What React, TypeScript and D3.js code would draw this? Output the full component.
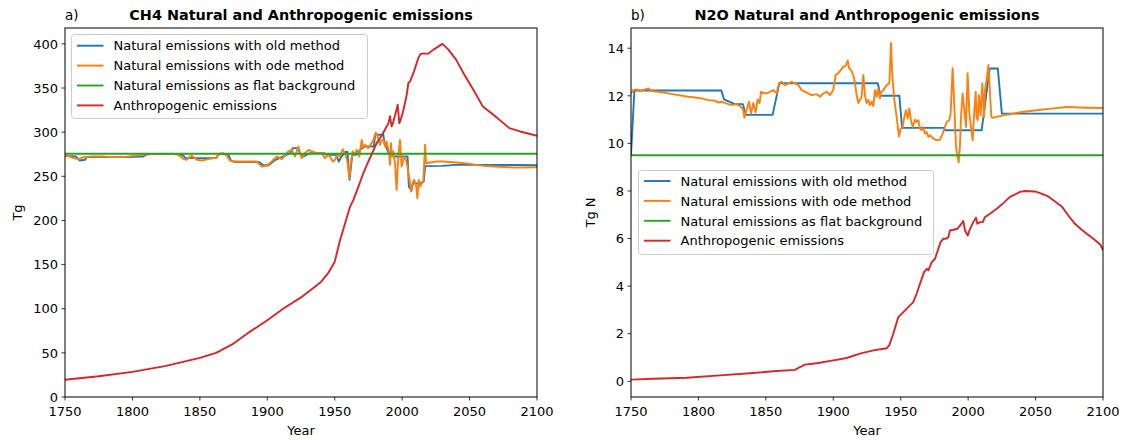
import React from "react";
import * as d3 from "d3";

// ---------- DATA ----------
const xTicks = [1750, 1800, 1850, 1900, 1950, 2000, 2050, 2100];
const ch4YTicks = [0, 50, 100, 150, 200, 250, 300, 350, 400];
const n2oYTicks = [0, 2, 4, 6, 8, 10, 12, 14];
const seriesNames = [
  "Natural emissions with old method",
  "Natural emissions with ode method",
  "Natural emissions as flat background",
  "Anthropogenic emissions",
];
const seriesColors = ["#1f77b4", "#ff7f0e", "#2ca02c", "#d62728"];

// CH4 (Tg)
const ch4OldYears = [1750, 1758, 1761, 1765, 1766, 1796, 1808, 1811, 1835, 1838, 1839, 1862, 1864, 1871, 1873, 1876, 1894, 1897, 1901, 1906, 1912, 1917, 1919, 1923, 1924, 1927, 1929, 1932, 1942, 1944, 1951, 1953, 1955, 1958, 1959.5, 1961, 1963, 1966, 1970, 1973, 1979, 1980, 1986, 1987, 1990, 1994, 2004, 2005, 2007, 2008, 2013, 2016, 2017, 2030, 2040, 2060, 2100];
const ch4OldValues = [273.2, 272.4, 267.9, 268.7, 271.7, 271.7, 272.4, 275.1, 275.1, 273.2, 270.6, 270.6, 275.1, 275.1, 267.9, 266.1, 266.1, 262.5, 262.5, 268.7, 272.5, 276.3, 281.9, 281.9, 276.3, 272.5, 274.4, 276.3, 276.3, 274.4, 274.4, 266.7, 272.4, 277.5, 277.5, 246, 274.3, 274.3, 281.9, 283.8, 283.8, 297, 297, 287.6, 276.2, 272.4, 272.4, 238, 234, 242, 242, 244, 261.5, 261.8, 263, 263, 262.5];

const ch4OdeYears = [1750, 1752.5, 1756.2, 1759.9, 1763.6, 1771, 1778.4, 1785.8, 1793.2, 1800.7, 1808.1, 1815.5, 1830.3, 1834, 1837.7, 1840.2, 1843.9, 1847.7, 1851.4, 1856.3, 1862.5, 1864.4, 1867.4, 1869.9, 1872.3, 1876.1, 1887.2, 1892.1, 1895.9, 1899.6, 1903.3, 1907, 1910.7, 1913.2, 1915.6, 1918.1, 1920.6, 1923, 1925.5, 1928, 1930.5, 1932.9, 1935.4, 1937.9, 1940.3, 1942.8, 1945.3, 1946.5, 1948.5, 1950.2, 1951.9, 1953.9, 1955.9, 1957.6, 1959.4, 1960.8, 1962.1, 1963.3, 1965, 1966.3, 1968.3, 1970, 1971.2, 1972.5, 1974.9, 1977.4, 1978.6, 1980.4, 1981.8, 1983.6, 1984.8, 1986.1, 1987.3, 1988.5, 1990.3, 1991, 1991.7, 1992.7, 1993.5, 1994.7, 1995.9, 1997.2, 1998.4, 1999.6, 2001.4, 2002.9, 2003.9, 2005.3, 2006.6, 2007.8, 2008.8, 2010.3, 2011.3, 2012.3, 2013.2, 2014.5, 2015.7, 2017, 2017.7, 2020.7, 2025.6, 2030.5, 2040.4, 2050.3, 2060.2, 2075, 2085, 2100];
const ch4OdeValues = [272.4, 273.2, 270.6, 269.4, 271.7, 272.4, 272.4, 271.7, 271.7, 273.2, 274.3, 275.1, 275.1, 274.3, 269.8, 268.7, 273.6, 268.7, 267.9, 269.4, 271.3, 275.5, 276.2, 273.2, 267.9, 266.8, 266.8, 266.8, 261.1, 261.9, 266.8, 272.5, 269.5, 273.2, 278.2, 280, 272.5, 283.8, 270.6, 276.3, 280, 278.2, 277, 276.3, 276.3, 270.6, 274.4, 272.4, 266.7, 268.6, 274.3, 272.4, 280.7, 276.2, 266.7, 247.8, 266.7, 278.1, 274.3, 280, 272.4, 291.3, 281.9, 285.7, 281.9, 287.6, 291.3, 299.7, 295.1, 285.7, 291.3, 291.3, 283.8, 289.5, 276.2, 263, 287.6, 272.4, 278.1, 264.8, 234.6, 274.3, 291.3, 261.1, 272.4, 268.6, 261.1, 247.8, 232.7, 242.1, 245.9, 240.3, 225.1, 245.9, 238.4, 242.1, 244, 285.7, 264.8, 265.6, 266.7, 266.7, 265.6, 264.1, 261.8, 260.5, 259.8, 260.2];

const ch4FlatYears = [1750, 2100];
const ch4FlatValues = [275.5, 275.5];

const ch4AnthYears = [1750, 1775, 1800, 1825, 1850, 1862, 1875, 1887, 1900, 1912, 1925, 1937, 1940, 1945, 1950, 1954, 1961.4, 1963.8, 1967.5, 1971.2, 1974.9, 1977.4, 1981.1, 1984.8, 1987.3, 1989.8, 1991, 1992.2, 1993.5, 1995.2, 1996.7, 1997.9, 1998.9, 2000.4, 2002.1, 2003.4, 2004.6, 2005.9, 2008.4, 2010.8, 2012.1, 2013.3, 2014.5, 2019.5, 2023.2, 2029.9, 2034.3, 2040, 2045.4, 2052.8, 2059.8, 2067.7, 2079.5, 2087.5, 2100];
const ch4AnthValues = [19.5, 23.5, 28.4, 35.2, 44.3, 50, 60.5, 73.8, 87, 100.3, 112.8, 126.8, 130.6, 140, 153.3, 177.9, 215.7, 223, 238, 253.5, 266.7, 275, 287.6, 296, 303, 310, 318, 306.5, 312, 321.6, 331.1, 310.3, 314, 321.6, 333, 342.4, 355.7, 357.6, 367.1, 378.4, 384.1, 387.9, 389, 389, 393.5, 400, 393.5, 382.2, 367.1, 348.1, 329.2, 319.8, 304.6, 300.8, 296];

// N2O (Tg N)
const n2oOldYears = [1750, 1752.5, 1817, 1819, 1827, 1833, 1835, 1855, 1860, 1933, 1935, 1949, 1951, 1982, 1983, 2010, 2016, 2022, 2025, 2100];
const n2oOldValues = [9.5, 12.22, 12.22, 11.85, 11.65, 11.65, 11.2, 11.2, 12.53, 12.53, 12.0, 12.0, 10.65, 10.65, 10.55, 10.55, 13.15, 13.15, 11.25, 11.25];

const n2oOdeYears = [1750, 1751.7, 1754.2, 1756.7, 1759.1, 1762.9, 1765.3, 1770.3, 1777.7, 1785.1, 1792.5, 1797.5, 1802.4, 1807.3, 1812.3, 1814.7, 1817.2, 1819.7, 1822.2, 1824.6, 1827.1, 1829.6, 1832.1, 1833.3, 1834, 1837.5, 1839, 1840.7, 1842.4, 1843.9, 1845.4, 1846.4, 1849.4, 1851.8, 1855.5, 1858, 1859.7, 1861.7, 1864.2, 1866.7, 1869.1, 1871.6, 1874.1, 1876.6, 1880.3, 1884, 1887.7, 1890.2, 1892.6, 1895.1, 1897.6, 1900, 1901.8, 1903.7, 1905.7, 1907.4, 1909.2, 1910.7, 1911.7, 1913.1, 1914.8, 1916.1, 1917.3, 1918.6, 1919.8, 1921, 1922.3, 1923.5, 1924.7, 1926, 1927.2, 1928.5, 1929.7, 1930.9, 1932.2, 1933.4, 1934.6, 1935.1, 1937.1, 1939.6, 1941.6, 1942.8, 1943.8, 1945.3, 1947, 1948.7, 1950, 1951.4, 1952.7, 1953.9, 1955.2, 1956.4, 1957.6, 1958.9, 1960.6, 1961.8, 1963.1, 1964.3, 1965.5, 1966.8, 1968, 1969.2, 1970.5, 1971.7, 1974.2, 1976.7, 1979.1, 1981.1, 1982.8, 1984.1, 1986, 1987, 1988.5, 1989.8, 1991, 1992, 1993, 1994, 1994.7, 1995.9, 1997.2, 1998.4, 1999.6, 2000.9, 2002.1, 2003.4, 2004.3, 2005.6, 2006.3, 2007.1, 2008, 2009.3, 2010.5, 2011.8, 2012.5, 2013.7, 2015, 2016.2, 2017.2, 2017.9, 2026.1, 2038.5, 2050.8, 2063.2, 2073.1, 2087.9, 2100];
const n2oOdeValues = [12.1, 12.24, 12.27, 12.2, 12.24, 12.31, 12.2, 12.17, 12.1, 12.03, 11.96, 11.93, 11.89, 11.82, 11.79, 11.72, 11.75, 11.7, 11.65, 11.61, 11.65, 11.61, 11.51, 11.39, 11.08, 11.75, 11.25, 11.7, 11.3, 11.85, 11.7, 12.17, 12.1, 12.13, 12.24, 12.1, 12.52, 12.59, 12.45, 12.52, 12.59, 12.52, 12.45, 12.24, 12.13, 12.03, 12.07, 11.96, 12.1, 12.17, 12.03, 12.24, 12.88, 12.95, 13.09, 13.23, 13.26, 13.48, 13.16, 13.09, 12.88, 12.52, 12.03, 11.7, 11.82, 11.96, 12.88, 12.03, 11.7, 11.82, 11.61, 11.75, 11.56, 12.24, 11.96, 12.31, 11.89, 12.1, 12.24, 12.45, 12.53, 14.22, 12.81, 11.82, 11.11, 10.29, 10.62, 10.69, 11.11, 11.39, 11.04, 11.47, 10.97, 10.69, 11.0, 10.9, 10.97, 10.62, 10.55, 10.69, 10.41, 10.48, 10.27, 10.34, 10.2, 10.13, 10.16, 10.41, 10.69, 10.9, 10.97, 11.25, 13.16, 11.53, 9.84, 9.49, 9.2, 9.98, 11.11, 12.1, 11.39, 10.69, 12.95, 11.25, 10.69, 10.13, 11.11, 12.17, 11.11, 10.97, 12.03, 11.18, 12.53, 11.11, 12.24, 12.67, 13.3, 12.1, 11.11, 11.07, 11.18, 11.31, 11.39, 11.47, 11.53, 11.5, 11.49];

const n2oFlatYears = [1750, 2100];
const n2oFlatValues = [9.5, 9.5];

const n2oAnthYears = [1750, 1766.5, 1791.3, 1816, 1840.7, 1858, 1871.6, 1875.3, 1879, 1887.7, 1900, 1909.9, 1919.8, 1929.7, 1939.6, 1941.5, 1944.5, 1948.2, 1951.9, 1955.6, 1959.3, 1961.8, 1964.3, 1967.3, 1969.3, 1970.5, 1973, 1975.4, 1977.9, 1979.6, 1981.6, 1983.6, 1985.3, 1986.5, 1989, 1992, 1994, 1996.4, 1997.7, 1999.7, 2001.4, 2003.8, 2005.8, 2006.8, 2008.8, 2010.8, 2012.5, 2016.2, 2021.2, 2026.1, 2031, 2038.5, 2042.2, 2049.6, 2053.3, 2059.4, 2063.2, 2069.4, 2074.3, 2079.2, 2084.2, 2087.9, 2092.8, 2097.8, 2100];
const n2oAnthValues = [0.07, 0.11, 0.15, 0.25, 0.35, 0.43, 0.48, 0.6, 0.7, 0.76, 0.88, 0.98, 1.16, 1.3, 1.39, 1.51, 2.0, 2.7, 2.91, 3.12, 3.33, 3.68, 4.1, 4.59, 4.73, 4.66, 5.01, 5.15, 5.57, 5.85, 5.99, 5.99, 6.06, 6.34, 6.37, 6.41, 6.55, 6.74, 6.34, 6.13, 6.41, 6.69, 6.88, 6.62, 6.69, 6.69, 6.9, 7.04, 7.25, 7.49, 7.75, 7.96, 8.0, 7.98, 7.91, 7.77, 7.61, 7.35, 6.97, 6.62, 6.37, 6.2, 5.99, 5.76, 5.53];

// ---------- LAYOUT ----------
const W = 1123;
const H = 440;
const TOP = 28;
const BOTTOM = 397;
const FONT = "DejaVu Sans, sans-serif";

type Series = { years: number[]; values: number[] };

function Panel(props: {
  x0: number;
  x1: number;
  yDomain: [number, number];
  yTicks: number[];
  series: Series[];
  title: string;
  tag: string;
  ylabel: string;
  ylabelX: number;
  legend: { x: number; y: number; w: number; h: number; first: number };
  id: string;
}) {
  const { x0, x1, yDomain, yTicks, series, title, tag, ylabel, ylabelX, legend, id } = props;
  const x = d3.scaleLinear().domain([1750, 2100]).range([x0, x1]);
  const y = d3.scaleLinear().domain(yDomain).range([BOTTOM, TOP]);
  const cx = (x0 + x1) / 2;
  return (
    <g>
      <defs>
        <clipPath id={id}>
          <rect x={x0} y={TOP} width={x1 - x0} height={BOTTOM - TOP} />
        </clipPath>
      </defs>
      <g clipPath={`url(#${id})`}>
        {series.map((s, i) => {
          const pts = s.years.map((yr, k) => [yr, s.values[k]] as [number, number]);
          const path = d3
            .line<[number, number]>()
            .x((d) => x(d[0]))
            .y((d) => y(d[1]))(pts);
          return (
            <path
              key={i}
              d={path || ""}
              fill="none"
              stroke={seriesColors[i]}
              strokeWidth={1.9}
              strokeLinejoin="round"
              strokeLinecap="square"
            />
          );
        })}
      </g>
      {/* spines */}
      <rect x={x0} y={TOP} width={x1 - x0} height={BOTTOM - TOP} fill="none" stroke="#000" strokeWidth={1} />
      {/* x ticks */}
      {xTicks.map((t) => (
        <g key={t}>
          <line x1={x(t)} x2={x(t)} y1={BOTTOM} y2={BOTTOM + 3.5} stroke="#000" strokeWidth={0.8} />
          <text x={x(t)} y={BOTTOM + 19} textAnchor="middle" fontSize={13} fontFamily={FONT} fill="#000">
            {t}
          </text>
        </g>
      ))}
      {/* y ticks */}
      {yTicks.map((t) => (
        <g key={t}>
          <line x1={x0 - 3.5} x2={x0} y1={y(t)} y2={y(t)} stroke="#000" strokeWidth={0.8} />
          <text x={x0 - 7} y={y(t) + 4.7} textAnchor="end" fontSize={13} fontFamily={FONT} fill="#000">
            {t}
          </text>
        </g>
      ))}
      <text x={cx} y={435} textAnchor="middle" fontSize={13} fontFamily={FONT} fill="#000">
        Year
      </text>
      <text
        transform={`translate(${ylabelX},${(TOP + BOTTOM) / 2}) rotate(-90)`}
        textAnchor="middle"
        fontSize={13}
        fontFamily={FONT}
        fill="#000"
      >
        {ylabel}
      </text>
      <text x={cx} y={20} textAnchor="middle" fontSize={14.4} fontWeight="bold" fontFamily={FONT} fill="#000">
        {title}
      </text>
      <text x={x0} y={20} textAnchor="start" fontSize={13.5} fontFamily={FONT} fill="#000">
        {tag}
      </text>
      {/* legend */}
      <rect
        x={legend.x}
        y={legend.y}
        width={legend.w}
        height={legend.h}
        rx={3}
        ry={3}
        fill="#fff"
        fillOpacity={0.8}
        stroke="#cccccc"
        strokeWidth={1}
      />
      {seriesNames.map((n, i) => {
        const ry = legend.y + legend.first + i * 19.9;
        return (
          <g key={n}>
            <line x1={legend.x + 5.5} x2={legend.x + 32} y1={ry} y2={ry} stroke={seriesColors[i]} strokeWidth={1.9} />
            <text x={legend.x + 42} y={ry + 4.7} fontSize={13} fontFamily={FONT} fill="#000">
              {n}
            </text>
          </g>
        );
      })}
    </g>
  );
}

export default function App() {
  const ch4Series: Series[] = [
    { years: ch4OldYears, values: ch4OldValues },
    { years: ch4OdeYears, values: ch4OdeValues },
    { years: ch4FlatYears, values: ch4FlatValues },
    { years: ch4AnthYears, values: ch4AnthValues },
  ];
  const n2oSeries: Series[] = [
    { years: n2oOldYears, values: n2oOldValues },
    { years: n2oOdeYears, values: n2oOdeValues },
    { years: n2oFlatYears, values: n2oFlatValues },
    { years: n2oAnthYears, values: n2oAnthValues },
  ];
  return (
    <svg
      width={W}
      height={H}
      style={{ position: "absolute", left: 0, top: 0, background: "#fff" }}
      xmlns="http://www.w3.org/2000/svg"
    >
      <rect x={0} y={0} width={W} height={H} fill="#fff" />
      <Panel
        id="clipA"
        x0={65}
        x1={537}
        yDomain={[0, 418]}
        yTicks={ch4YTicks}
        series={ch4Series}
        title="CH4 Natural and Anthropogenic emissions"
        tag="a)"
        ylabel="Tg"
        ylabelX={22}
        legend={{ x: 71.5, y: 34.5, w: 296, h: 84, first: 11.2 }}
      />
      <Panel
        id="clipB"
        x0={631}
        x1={1103}
        yDomain={[-0.66, 14.85]}
        yTicks={n2oYTicks}
        series={n2oSeries}
        title="N2O Natural and Anthropogenic emissions"
        tag="b)"
        ylabel="Tg N"
        ylabelX={595}
        legend={{ x: 638.5, y: 170.5, w: 295, h: 84, first: 10.5 }}
      />
    </svg>
  );
}
